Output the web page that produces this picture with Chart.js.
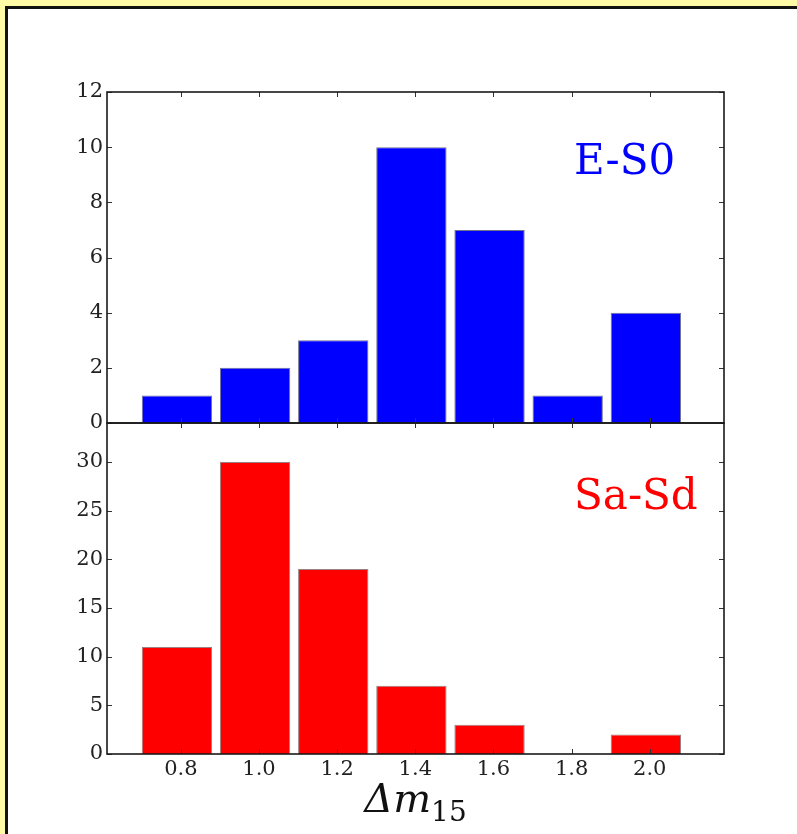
<!DOCTYPE html>
<html>
<head>
<meta charset="utf-8">
<script src="https://cdn.jsdelivr.net/npm/chart.js@4/dist/chart.umd.min.js"></script>
<style>
  html, body { margin: 0; padding: 0; }
  body { width: 797px; height: 834px; background: #fffaa6; position: relative; overflow: hidden; }
  #frame { position: absolute; left: 5px; top: 6px; width: 800px; height: 840px; background: #fff;
           border-left: 3px solid #111; border-top: 3px solid #111; }
  .panel { position: absolute; left: 0; }
  #topPanel { top: 0; }
  #bottomPanel { top: 400px; }
</style>
</head>
<body>
<div id="frame"></div>
<div class="panel" id="topPanel"><canvas id="topChart" width="797" height="440"></canvas></div>
<div class="panel" id="bottomPanel"><canvas id="bottomChart" width="797" height="434"></canvas></div>
<script>
// Decline-rate histogram, split by host morphology
const binCenters = [0.79, 0.99, 1.19, 1.39, 1.59, 1.79, 1.99];
const earlyTypeCounts = [1, 2, 3, 10, 7, 1, 4];     // E-S0
const spiralCounts = [11, 30, 19, 7, 3, 0, 2];      // Sa-Sd
const xTicks = [0.8, 1.0, 1.2, 1.4, 1.6, 1.8, 2.0];
const yTicksTop = [0, 2, 4, 6, 8, 10, 12];
const yTicksBottom = [0, 5, 10, 15, 20, 25, 30];

const FONT = '"DejaVu Serif", "Liberation Serif", serif';

// Axes box, inward tick marks on all four sides, and the panel label
const frameTicks = {
  id: 'frameTicks',
  afterDatasetsDraw(chart, args, opts) {
    const { ctx, chartArea: a, scales: { x, y } } = chart;
    const L = 5;
    ctx.save();
    ctx.strokeStyle = '#333';
    ctx.lineWidth = 1;
    ctx.beginPath();
    x.ticks.forEach(t => {
      const px = Math.round(x.getPixelForValue(t.value)) + 0.5;
      ctx.moveTo(px, a.top); ctx.lineTo(px, a.top + L);
      ctx.moveTo(px, a.bottom); ctx.lineTo(px, a.bottom - L);
    });
    y.ticks.forEach(t => {
      const py = Math.round(y.getPixelForValue(t.value)) + 0.5;
      ctx.moveTo(a.left, py); ctx.lineTo(a.left + L, py);
      ctx.moveTo(a.right, py); ctx.lineTo(a.right - L, py);
    });
    ctx.stroke();
    ctx.strokeStyle = '#1a1a1a';
    ctx.lineWidth = 1.6;
    ctx.strokeRect(a.left, a.top, a.right - a.left, a.bottom - a.top);
    ctx.fillStyle = opts.color;
    ctx.font = '42px ' + FONT;
    ctx.textAlign = 'left';
    ctx.textBaseline = 'alphabetic';
    ctx.fillText(opts.text, a.left + opts.fx * (a.right - a.left), a.top + opts.fy * (a.bottom - a.top));
    ctx.restore();
  }
};

// Δm15 axis title under the lower panel
const axisTitle = {
  id: 'axisTitle',
  afterDraw(chart, args, opts) {
    if (!opts.show) return;
    const { ctx, chartArea: a } = chart;
    ctx.save();
    ctx.fillStyle = '#111';
    const big = 'italic 40px ' + FONT;
    const small = '28px ' + FONT;
    ctx.font = big;
    const w1 = ctx.measureText('Δm').width;
    ctx.font = small;
    const w2 = ctx.measureText('15').width;
    const cx = (a.left + a.right) / 2;
    const x0 = cx - (w1 + w2) / 2;
    const base = a.bottom + 58;
    ctx.textBaseline = 'alphabetic';
    ctx.font = big;
    ctx.fillText('Δm', x0, base);
    ctx.font = small;
    ctx.fillText('15', x0 + w1, base + 9);
    ctx.restore();
  }
};

function makePanel(canvasId, counts, color, edge, yMax, yTicks, label, labelFy, showX, padTop, xHeight) {
  return new Chart(document.getElementById(canvasId), {
    type: 'bar',
    data: {
      datasets: [{
        data: binCenters.map((c, i) => ({ x: c, y: counts[i] })),
        backgroundColor: color,
        borderColor: edge,
        borderWidth: 1,
        barPercentage: 0.9,
        categoryPercentage: 1.0
      }]
    },
    options: {
      responsive: false,
      animation: false,
      layout: { padding: { top: padTop, right: 73, left: 0, bottom: 0 } },
      plugins: {
        legend: { display: false },
        tooltip: { enabled: false },
        frameTicks: { text: label, color: color, fx: 0.757, fy: labelFy },
        axisTitle: { show: showX }
      },
      scales: {
        x: {
          type: 'linear',
          offset: false,
          min: 0.611,
          max: 2.19,
          grid: { display: false, drawTicks: false },
          border: { display: false },
          afterBuildTicks: s => { s.ticks = xTicks.map(v => ({ value: v })); },
          afterFit: s => { s.height = xHeight; },
          ticks: {
            display: showX,
            padding: 3,
            color: '#222',
            font: { family: FONT, size: 21 },
            callback: v => Number(v).toFixed(1)
          }
        },
        y: {
          min: 0,
          max: yMax,
          grid: { display: false, drawTicks: false },
          border: { display: false },
          afterBuildTicks: s => { s.ticks = yTicks.map(v => ({ value: v })); },
          afterFit: s => { s.width = 107; },
          ticks: {
            padding: 4,
            color: '#222',
            font: { family: FONT, size: 21 },
            callback: v => String(v)
          }
        }
      }
    },
    plugins: [frameTicks, axisTitle]
  });
}

makePanel('topChart', earlyTypeCounts, '#0000ff', 'rgba(0,0,60,0.55)', 12, yTicksTop,
          'E-S0', 0.248, false, 92, 17);
makePanel('bottomChart', spiralCounts, '#ff0000', 'rgba(60,0,0,0.5)', 34, yTicksBottom,
          'Sa-Sd', 0.26, true, 23, 80);
</script>
</body>
</html>
